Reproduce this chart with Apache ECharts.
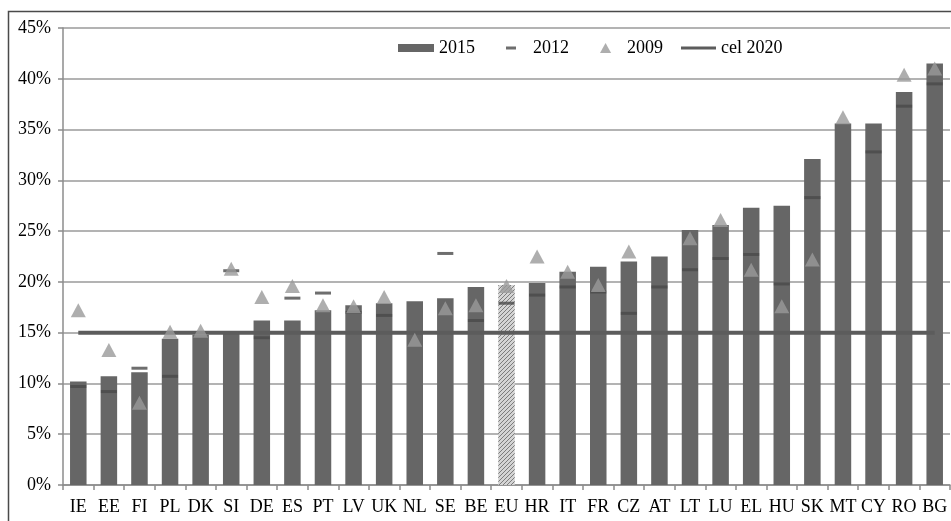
<!DOCTYPE html>
<html>
<head>
<meta charset="utf-8">
<script src="https://cdn.jsdelivr.net/npm/echarts@6/dist/echarts.min.js"></script>
<style>
  html, body { margin: 0; padding: 0; background: #fff; }
  #chart { width: 951px; height: 521px; }
</style>
</head>
<body>
<div id="chart"></div>
<script>
// Underachievement shares by country (%), with the 15% 2020 benchmark
const categories = ['IE','EE','FI','PL','DK','SI','DE','ES','PT','LV','UK','NL','SE','BE','EU',
  'HR','IT','FR','CZ','AT','LT','LU','EL','HU','SK','MT','CY','RO','BG'];

const values2015 = [10.2, 10.7, 11.1, 14.4, 14.8, 15.0, 16.2, 16.2, 17.2, 17.7, 17.9, 18.1, 18.4, 19.5, 19.7,
  19.9, 21.0, 21.5, 22.0, 22.5, 25.1, 25.6, 27.3, 27.5, 32.1, 35.6, 35.6, 38.7, 41.5];

const values2012 = [9.7, 9.2, 11.5, 10.7, null, 21.1, 14.5, 18.4, 18.9, 17.0, 16.7, null, 22.8, 16.2, 17.9,
  18.7, 19.5, 19.0, 16.9, 19.5, 21.2, 22.3, 22.7, 19.8, 28.3, null, 32.8, 37.3, 39.5];

const values2009 = [17.2, 13.3, 8.1, 15.1, 15.2, 21.3, 18.5, 19.6, 17.7, 17.6, 18.5, 14.3, 17.4, 17.7, 19.6,
  22.5, 21.0, 19.7, 23.0, null, 24.3, 26.1, 21.2, 17.6, 22.2, 36.2, null, 40.4, 41.0];

const target2020 = categories.map(() => 15);

const yTicks = { min: 0, max: 45, interval: 5 };
const highlighted = 'EU';

// Hatched fill for the EU average bar
const hatch = document.createElement('canvas');
hatch.width = 4; hatch.height = 4;
const hctx = hatch.getContext('2d');
hctx.fillStyle = '#d4d4d4';
hctx.fillRect(0, 0, 4, 4);
hctx.strokeStyle = '#7c7c7c';
hctx.lineWidth = 1;
hctx.beginPath();
hctx.moveTo(0, 4); hctx.lineTo(4, 0);
hctx.moveTo(-1, 1); hctx.lineTo(1, -1);
hctx.moveTo(3, 5); hctx.lineTo(5, 3);
hctx.stroke();

const FONT = "'Liberation Serif', 'DejaVu Serif', serif";
const barColor = '#666666';
const dashColor = '#4a4a4a';
const triColor = '#9a9a9a';
const lineColor = '#5c5c5c';

const legendText = { fontFamily: FONT, fontSize: 18, color: '#000' };

const chart = echarts.init(document.getElementById('chart'), null, { renderer: 'canvas' });

chart.setOption({
  animation: false,
  backgroundColor: '#ffffff',
  graphic: [{
    type: 'rect',
    shape: { x: 8.5, y: 11.5, width: 960, height: 540 },
    style: { fill: 'none', stroke: '#4a4a4a', lineWidth: 1.5 },
    silent: true
  }],
  legend: [
    { data: ['2015'], left: 398, top: 39, itemWidth: 36, itemHeight: 8, icon: 'rect',
      textStyle: legendText, selectedMode: false, padding: 0 },
    { data: ['2012'], left: 506, top: 39, itemWidth: 34, itemHeight: 3,
      icon: 'path://M0,0h10v3h-10z', textStyle: legendText, selectedMode: false, padding: 0 },
    { data: ['2009'], left: 600, top: 39, itemWidth: 33, itemHeight: 10,
      icon: 'path://M5,0L10,9L0,9Z', textStyle: legendText, selectedMode: false, padding: 0 },
    { data: ['cel 2020'], left: 681, top: 39, itemWidth: 35, itemHeight: 3, icon: 'rect',
      textStyle: legendText, selectedMode: false, padding: 0 }
  ],
  grid: { left: 63, right: 1, top: 28, bottom: 36, containLabel: false },
  xAxis: {
    type: 'category',
    data: categories,
    axisLine: { lineStyle: { color: '#8c8c8c', width: 1.5 } },
    axisTick: { show: true, length: 5, lineStyle: { color: '#8c8c8c', width: 1.5 } },
    axisLabel: { fontFamily: FONT, fontSize: 18, color: '#000', margin: 13, interval: 0 }
  },
  yAxis: {
    type: 'value',
    min: yTicks.min, max: yTicks.max, interval: yTicks.interval,
    axisLine: { show: true, lineStyle: { color: '#8c8c8c', width: 1.5 } },
    axisTick: { show: true, length: 5, lineStyle: { color: '#8c8c8c', width: 1.5 } },
    axisLabel: { fontFamily: FONT, fontSize: 18, color: '#000', margin: 12, formatter: '{value}%' },
    splitLine: { show: true, lineStyle: { color: '#9a9a9a', width: 1.5 } }
  },
  series: [
    {
      name: '2015',
      type: 'bar',
      barWidth: '54%',
      itemStyle: { color: barColor },
      z: 2,
      data: categories.map((c, i) => c === highlighted
        ? { value: values2015[i], itemStyle: { color: { image: hatch, repeat: 'repeat' } } }
        : values2015[i])
    },
    {
      name: 'cel 2020',
      type: 'line',
      data: target2020,
      symbol: 'none',
      lineStyle: { color: lineColor, width: 4 },
      itemStyle: { color: lineColor },
      z: 3
    },
    {
      name: '2012',
      type: 'scatter',
      data: values2012,
      symbol: 'rect',
      symbolSize: [16, 3],
      itemStyle: { color: dashColor },
      z: 4
    },
    {
      name: '2009',
      type: 'scatter',
      data: values2009,
      symbol: 'triangle',
      symbolSize: [15, 14],
      itemStyle: { color: triColor },
      z: 5
    }
  ]
});
</script>
</body>
</html>
